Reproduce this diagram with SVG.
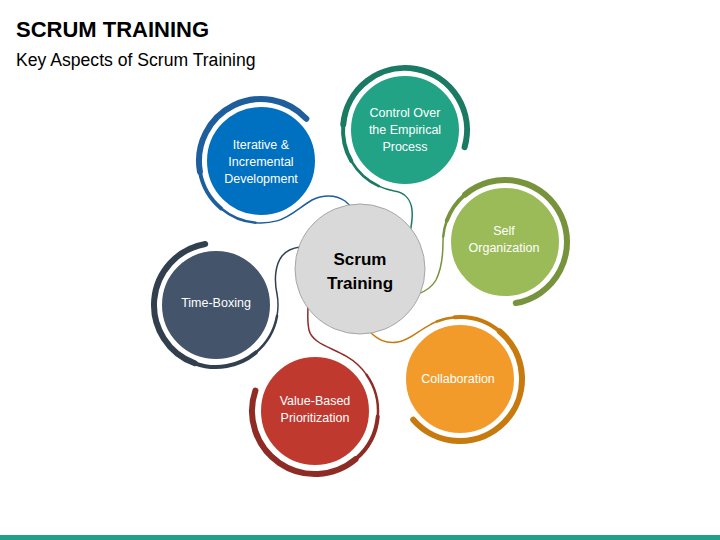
<svg xmlns="http://www.w3.org/2000/svg" width="720" height="540" viewBox="0 0 720 540">
<style>
.ttl{font-family:"Liberation Sans",Arial,sans-serif;font-weight:bold;font-size:22px;fill:#000}
.sub{font-family:"Liberation Sans",Arial,sans-serif;font-size:17.6px;fill:#000}
.lbl{font-family:"Liberation Sans",Arial,sans-serif;font-size:12.5px;fill:#fff;text-anchor:middle}
.ctr{font-family:"Liberation Sans",Arial,sans-serif;font-weight:bold;font-size:17px;fill:#000;text-anchor:middle}
.r{fill:none;stroke-linecap:round}
.w6{stroke-width:6}
.w4{stroke-width:4}
.w25{stroke-width:2.5}
.w15{stroke-width:1.5}
.inner{stroke:#fff;stroke-width:2}
</style>
<rect width="720" height="540" fill="#fff"/>
<text class="ttl" x="16" y="37">SCRUM TRAINING</text>
<text class="sub" x="16" y="66">Key Aspects of Scrum Training</text>

<g id="connectors">
<path class="r w15" stroke="#1d5e9c" d="M 255.6 222.76 A 62 62 0 0 0 277.05 220.89 C 290 217.5, 300 207, 312 200 C 322 195, 335 194, 345 201 C 349 204, 352 207, 355 212"/>
<path class="r w15" stroke="#1a7a63" d="M 378.8 186.19 A 62 62 0 0 0 394.24 191.06 C 404 192.5, 411 199, 412 210 C 413 219, 411 226, 410 234"/>
<path class="r w15" stroke="#77933c" d="M 443.24 236.6 A 62 62 0 0 0 443 242 C 443 258, 441 270, 436 280 C 432 287, 426 291, 418 294"/>
<path class="r w15" stroke="#c77a0e" d="M 436.77 321.51 A 62 62 0 0 0 429 325.31 C 418 331, 410 340, 398 342 C 386 344, 378 340, 369 331"/>
<path class="r w15" stroke="#8e2b24" d="M 366.61 374.86 A 63 63 0 0 0 346.5 356.44 C 330 347, 312 343, 309 330 C 307 321, 308 313, 308 305"/>
<path class="r w15" stroke="#323f4f" d="M 277.06 315.77 A 62 62 0 0 0 277.06 294.23 C 274 280, 275 265, 282 256 C 287 250, 292 248, 300 247"/>
</g>

<g id="node-iterative">
<path class="r w6" stroke="#1d5e9c" d="M 306.35 118.72 A 62 62 0 0 0 199.94 171.77"/>
<path class="r w4" stroke="#1d5e9c" d="M 199.94 171.77 A 62 62 0 0 0 221.15 208.49"/>
<path class="r w25" stroke="#1d5e9c" d="M 221.15 208.49 A 62 62 0 0 0 255.6 222.76"/>
<circle class="inner" cx="261" cy="161" r="55" fill="#0070c0"/>
<text class="lbl" x="261" y="149">Iterative &amp;</text>
<text class="lbl" x="261" y="166">Incremental</text>
<text class="lbl" x="261" y="183">Development</text>
</g>

<g id="node-control">
<path class="r w6" stroke="#1a7a63" d="M 464.6 147.09 A 62 62 0 1 0 343.24 124.6"/>
<path class="r w4" stroke="#1a7a63" d="M 343.24 124.6 A 62 62 0 0 0 351.31 161"/>
<path class="r w25" stroke="#1a7a63" d="M 351.31 161 A 62 62 0 0 0 378.8 186.19"/>
<circle class="inner" cx="405" cy="130" r="55" fill="#22a386"/>
<text class="lbl" x="405" y="117">Control Over</text>
<text class="lbl" x="405" y="134">the Empirical</text>
<text class="lbl" x="405" y="151">Process</text>
</g>

<g id="node-self">
<path class="r w6" stroke="#77933c" d="M 515.76 303.06 A 62 62 0 1 0 465.15 194.51"/>
<path class="r w4" stroke="#77933c" d="M 465.15 194.51 A 62 62 0 0 0 446.74 220.8"/>
<path class="r w25" stroke="#77933c" d="M 446.74 220.8 A 62 62 0 0 0 443.24 236.6"/>
<circle class="inner" cx="505" cy="242" r="55" fill="#9bbb59"/>
<text class="lbl" x="504" y="235">Self</text>
<text class="lbl" x="504" y="252">Organization</text>
</g>

<g id="node-collab">
<path class="r w6" stroke="#c77a0e" d="M 413.21 419.68 A 62 62 0 1 0 499.85 331.51"/>
<path class="r w4" stroke="#c77a0e" d="M 499.85 331.51 A 62 62 0 0 0 454.6 317.24"/>
<path class="r w25" stroke="#c77a0e" d="M 454.6 317.24 A 62 62 0 0 0 436.77 321.51"/>
<circle class="inner" cx="460" cy="379" r="55" fill="#f29b2b"/>
<text class="lbl" x="458" y="383">Collaboration</text>
</g>

<g id="node-value">
<path class="r w6" stroke="#8e2b24" d="M 255.43 390.49 A 63 63 0 0 0 355.5 459.26"/>
<path class="r w4" stroke="#8e2b24" d="M 355.5 459.26 A 63 63 0 0 0 377.76 416.49"/>
<path class="r w25" stroke="#8e2b24" d="M 377.76 416.49 A 63 63 0 0 0 366.61 374.86"/>
<circle class="inner" cx="315" cy="411" r="55" fill="#c0392e"/>
<text class="lbl" x="315" y="405">Value-Based</text>
<text class="lbl" x="315" y="422">Prioritization</text>
</g>

<g id="node-timebox">
<path class="r w6" stroke="#323f4f" d="M 205.24 243.94 A 62 62 0 0 0 194.8 363.26"/>
<path class="r w4" stroke="#323f4f" d="M 194.8 363.26 A 62 62 0 0 0 255.85 352.49"/>
<path class="r w25" stroke="#323f4f" d="M 255.85 352.49 A 62 62 0 0 0 277.06 315.77"/>
<circle class="inner" cx="216" cy="305" r="55" fill="#44546a"/>
<text class="lbl" x="216" y="307">Time-Boxing</text>
</g>

<g id="node-center">
<circle cx="360" cy="269" r="65" fill="#d9d9d9" stroke="#a6a6a6" stroke-width="1"/>
<text class="ctr" x="360" y="265">Scrum</text>
<text class="ctr" x="360" y="289">Training</text>
</g>

<rect x="0" y="535" width="720" height="5" fill="#22a086"/>
</svg>
